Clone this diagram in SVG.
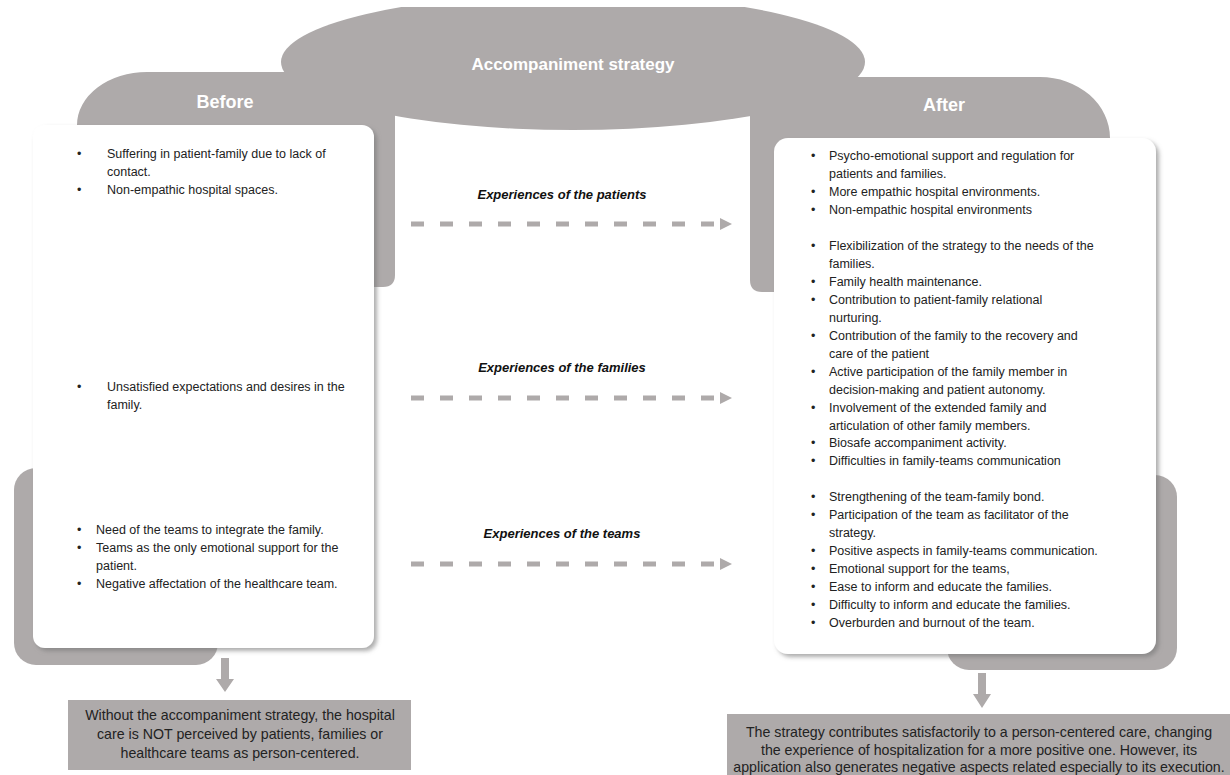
<svg xmlns="http://www.w3.org/2000/svg" width="1230" height="775" viewBox="0 0 1230 775">
<defs>
<style>
.g{fill:#aeaaaa}
.box{fill:#ffffff;filter:url(#sh)}
.t{font-family:"Liberation Sans",Arial,sans-serif;font-size:12.5px;fill:#222}
.h{font-family:"Liberation Sans",Arial,sans-serif;font-weight:bold;fill:#ffffff;text-anchor:middle}
.lbl{font-family:"Liberation Sans",Arial,sans-serif;font-size:13px;font-style:italic;font-weight:bold;fill:#111;text-anchor:middle}
.dash{stroke:#aeaaaa;stroke-width:5;stroke-dasharray:13 16;fill:none}
.bt{font-family:"Liberation Sans",Arial,sans-serif;font-size:14.2px;fill:#222;text-anchor:middle}
</style>
<filter id="sh" x="-5%" y="-5%" width="115%" height="115%">
<feDropShadow dx="3" dy="3" stdDeviation="2" flood-color="#777" flood-opacity="0.6"/>
</filter>
<clipPath id="top"><rect x="0" y="7" width="1230" height="768"/></clipPath>
<marker id="ah" markerWidth="12" markerHeight="12" refX="0" refY="6" orient="auto" markerUnits="userSpaceOnUse">
<path d="M0,0 L12,6 L0,12 Z" fill="#aeaaaa"/>
</marker>
</defs>
<rect width="1230" height="775" fill="#ffffff"/>

<g id="header">
<ellipse class="g" cx="573" cy="62" rx="292" ry="68" clip-path="url(#top)"/>
<path class="g" d="M77,125 A70,53 0 0 1 147,72 L395,72 L395,275 Q395,287 383,287 L355,287 L355,125 Z"/>
<path class="g" d="M750,77 L1040,77 A70,61 0 0 1 1110,138 L790,138 L790,292 L762,292 Q750,292 750,280 Z"/>
<text class="h" x="573" y="70" font-size="17">Accompaniment strategy</text>
<text class="h" x="225" y="108" font-size="18">Before</text>
<text class="h" x="944" y="111" font-size="18">After</text>
</g>

<g id="before">
<rect class="g" x="14" y="468" width="204" height="197" rx="22"/>
<rect class="box" x="33" y="125" width="341" height="523" rx="12"/>
<g class="t">
<text x="77" y="158">•</text><text x="107" y="158">Suffering in patient-family due to  lack of</text>
<text x="107" y="176">contact.</text>
<text x="77" y="194">•</text><text x="107" y="194">Non-empathic hospital spaces.</text>
<text x="77" y="391">•</text><text x="107" y="391">Unsatisfied expectations and desires in the</text>
<text x="107" y="409">family.</text>
<text x="77" y="534">•</text><text x="96" y="534">Need  of the teams to integrate the family.</text>
<text x="77" y="552">•</text><text x="96" y="552">Teams as the only emotional support for the</text>
<text x="96" y="570">patient.</text>
<text x="77" y="588">•</text><text x="96" y="588">Negative affectation of the healthcare team.</text>
</g>
</g>

<g id="after">
<rect class="g" x="947" y="475" width="230" height="195" rx="22"/>
<rect class="box" x="774" y="138" width="382" height="516" rx="14"/>
<g class="t">
<text x="811" y="160">•</text><text x="829" y="160">Psycho-emotional support and regulation for</text>
<text x="829" y="178">patients and families.</text>
<text x="811" y="196">•</text><text x="829" y="196">More empathic hospital environments.</text>
<text x="811" y="214">•</text><text x="829" y="214">Non-empathic hospital environments</text>
<text x="811" y="250">•</text><text x="829" y="250">Flexibilization of the strategy to the needs of the</text>
<text x="829" y="268">families.</text>
<text x="811" y="286">•</text><text x="829" y="286">Family health maintenance.</text>
<text x="811" y="304">•</text><text x="829" y="304">Contribution to patient-family relational</text>
<text x="829" y="322">nurturing.</text>
<text x="811" y="340">•</text><text x="829" y="340">Contribution of the family to the  recovery and</text>
<text x="829" y="358">care of the patient</text>
<text x="811" y="376">•</text><text x="829" y="376">Active participation of the family member  in</text>
<text x="829" y="394">decision-making and patient autonomy.</text>
<text x="811" y="412">•</text><text x="829" y="412"> Involvement of the extended family and</text>
<text x="829" y="430">articulation of other family members.</text>
<text x="811" y="447">•</text><text x="829" y="447">Biosafe accompaniment activity.</text>
<text x="811" y="465">•</text><text x="829" y="465">Difficulties in family-teams communication</text>
<text x="811" y="501">•</text><text x="829" y="501">Strengthening  of the team-family bond.</text>
<text x="811" y="519">•</text><text x="829" y="519">Participation of the team as facilitator of the</text>
<text x="829" y="537">strategy.</text>
<text x="811" y="555">•</text><text x="829" y="555">Positive aspects in family-teams communication.</text>
<text x="811" y="573">•</text><text x="829" y="573">Emotional support for the teams,</text>
<text x="811" y="591">•</text><text x="829" y="591">Ease to inform and educate the families.</text>
<text x="811" y="609">•</text><text x="829" y="609">Difficulty to inform and educate the families.</text>
<text x="811" y="627">•</text><text x="829" y="627">Overburden and burnout of the team.</text>
</g>
</g>

<g id="connectors">
<path class="dash" d="M411,224 L720,224" marker-end="url(#ah)"/>
<path class="dash" d="M411,398 L720,398" marker-end="url(#ah)"/>
<path class="dash" d="M411,564 L720,564" marker-end="url(#ah)"/>
<path d="M221,658 L229,658 L229,679 L234,679 L225,692 L216,679 L221,679 Z" fill="#aeaaaa"/>
<path d="M978,673 L986,673 L986,694 L991,694 L982,708 L973,694 L978,694 Z" fill="#aeaaaa"/>
</g>

<g id="labels">
<text class="lbl" x="562" y="199">Experiences of the patients</text>
<text class="lbl" x="562" y="372">Experiences of the families</text>
<text class="lbl" x="562" y="538">Experiences of the teams</text>
</g>

<g id="outcome-before">
<rect class="g" x="68" y="700" width="343" height="70"/>
<text class="bt" x="240" y="720">Without the accompaniment strategy, the hospital</text>
<text class="bt" x="240" y="739">care is NOT perceived by patients, families or</text>
<text class="bt" x="240" y="758">healthcare teams as person-centered.</text>
</g>

<g id="outcome-after">
<rect class="g" x="727" y="714" width="503" height="61"/>
<text class="bt" x="979" y="737">The strategy contributes satisfactorily to a person-centered care, changing</text>
<text class="bt" x="979" y="755">the experience of hospitalization for a more positive one. However, its</text>
<text class="bt" x="979" y="772">application also generates negative aspects related especially to its execution.</text>
</g>
</svg>
